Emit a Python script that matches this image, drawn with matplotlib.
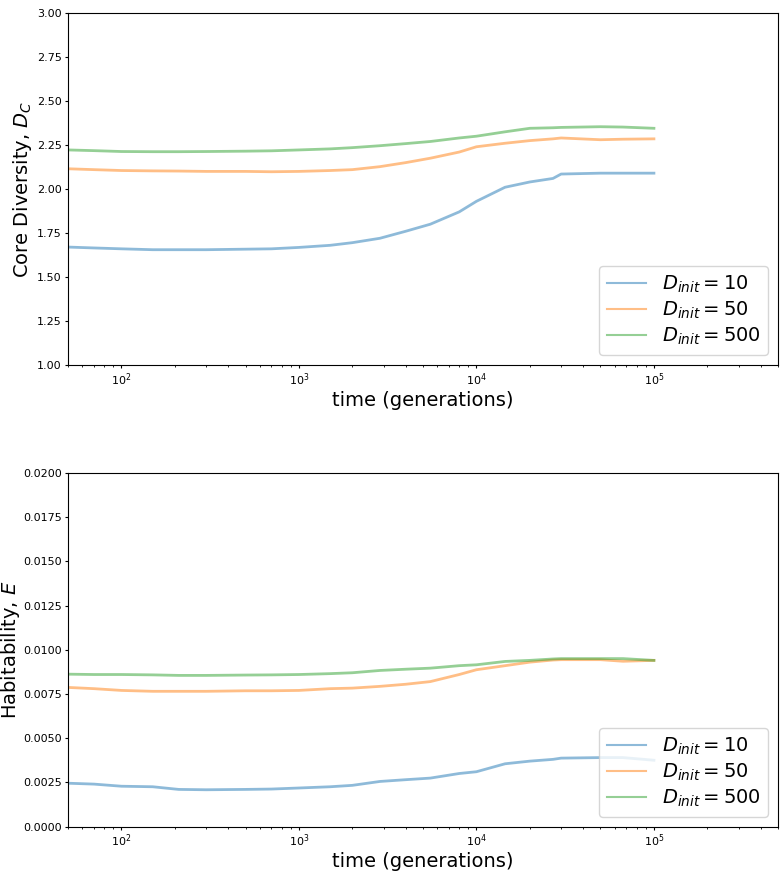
import matplotlib.pyplot as plt

# time points (generations)
t = [50, 70, 100, 150, 210, 300, 500, 700, 1000, 1500, 2000, 2860, 4000,
     5500, 8000, 10000, 14500, 20000, 27000, 30000, 50000, 67000, 100000]

# core diversity D_C
dc_10 = [1.670, 1.665, 1.660, 1.655, 1.655, 1.655, 1.658, 1.660, 1.668, 1.680, 1.695,
         1.720, 1.760, 1.800, 1.870, 1.930, 2.010, 2.040, 2.060, 2.085, 2.090, 2.090, 2.090]
dc_50 = [2.115, 2.110, 2.105, 2.103, 2.102, 2.100, 2.100, 2.098, 2.100, 2.105, 2.110,
         2.127, 2.150, 2.175, 2.210, 2.240, 2.260, 2.275, 2.285, 2.290, 2.280, 2.283, 2.285]
dc_500 = [2.222, 2.218, 2.213, 2.212, 2.212, 2.213, 2.215, 2.217, 2.222, 2.228, 2.235,
          2.246, 2.258, 2.270, 2.290, 2.300, 2.325, 2.345, 2.348, 2.350, 2.354, 2.352, 2.345]

# habitability E
e_10 = [0.00245, 0.00240, 0.00228, 0.00225, 0.00210, 0.00208, 0.00210, 0.00212, 0.00218,
        0.00225, 0.00233, 0.00255, 0.00265, 0.00274, 0.00300, 0.00310, 0.00355, 0.00370,
        0.00380, 0.00387, 0.00390, 0.00390, 0.00375]
e_50 = [0.00787, 0.00780, 0.00770, 0.00765, 0.00765, 0.00765, 0.00768, 0.00768, 0.00770,
        0.00780, 0.00783, 0.00793, 0.00805, 0.00820, 0.00860, 0.00887, 0.00910, 0.00930,
        0.00942, 0.00944, 0.00944, 0.00935, 0.00940]
e_500 = [0.00862, 0.00860, 0.00860, 0.00858, 0.00855, 0.00855, 0.00857, 0.00858, 0.00860,
         0.00865, 0.00870, 0.00883, 0.00890, 0.00896, 0.00910, 0.00915, 0.00934, 0.00940,
         0.00948, 0.00950, 0.00950, 0.00950, 0.00940]

labels = [r'$D_{init} = 10$', r'$D_{init} = 50$', r'$D_{init} = 500$']
colors = ['tab:blue', 'tab:orange', 'tab:green']

fig = plt.figure(figsize=(7.8, 8.75), dpi=100)
ax1 = fig.add_axes([0.0872, 0.5829, 0.9102, 0.4022])
ax2 = fig.add_axes([0.0872, 0.0554, 0.9102, 0.4040])

for ax, series, ylim, ylabel, lp in [
        (ax1, [dc_10, dc_50, dc_500], (1.0, 3.0), r'Core Diversity, $D_C$', 2),
        (ax2, [e_10, e_50, e_500], (0.0, 0.02), r'Habitability, $E$', 0.5)]:
    for y, c, lab in zip(series, colors, labels):
        ax.plot(t, y, color=c, alpha=0.5, lw=2.0, label=lab)
    ax.set_xscale('log')
    ax.set_xlim(50, 5e5)
    ax.set_ylim(*ylim)
    ax.set_xlabel('time (generations)', fontsize=14, labelpad=2)
    ax.set_ylabel(ylabel, fontsize=14, labelpad=lp)
    ax.tick_params(which='major', labelsize=8, length=2.5, pad=2)
    ax.tick_params(which='minor', length=1.5)
    leg = ax.legend(loc='lower right', fontsize=14, labelspacing=0.25)
    for h in leg.get_lines():
        h.set_linewidth(1.5)

ax1.set_yticks([1.0, 1.25, 1.5, 1.75, 2.0, 2.25, 2.5, 2.75, 3.0])
ax1.set_yticklabels(['%.2f' % v for v in ax1.get_yticks()])
ax2.set_yticks([0.0, 0.0025, 0.005, 0.0075, 0.01, 0.0125, 0.015, 0.0175, 0.02])
ax2.set_yticklabels(['%.4f' % v for v in ax2.get_yticks()])

fig.savefig('out.png', dpi=100)
